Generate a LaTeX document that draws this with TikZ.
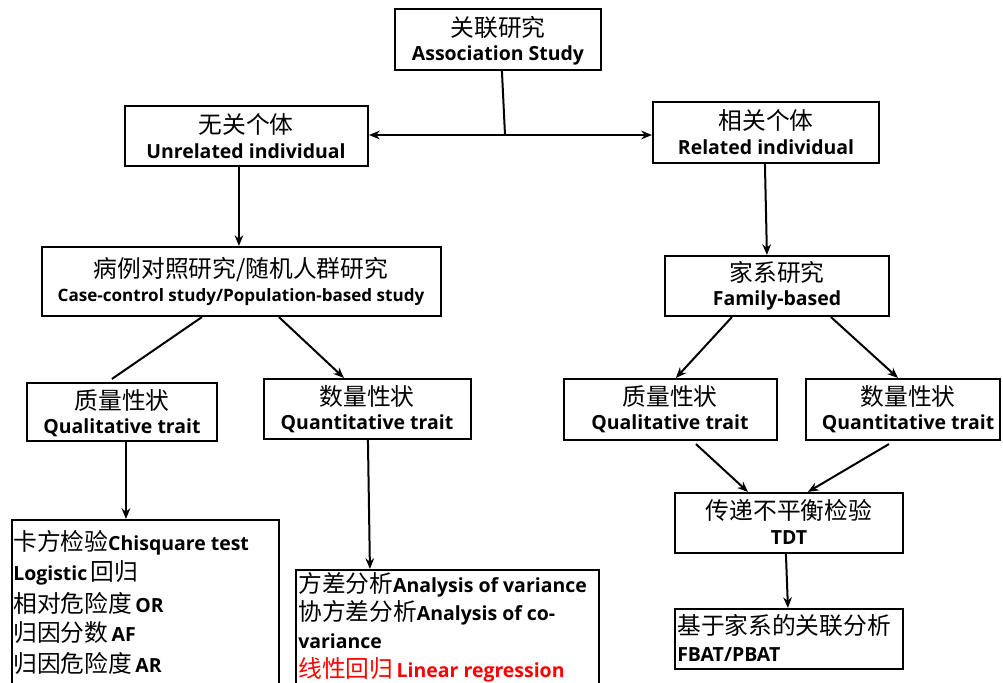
\documentclass[tikz,border=0pt]{standalone}
\usepackage{fontspec}
\setmainfont{Open Sans}
\newfontfamily\zhfont{Noto Sans CJK SC}
\usetikzlibrary{arrows.meta,calc,fit}
\newcommand\zhtxt[1]{{\zhfont\fontsize{17.8}{20}\selectfont #1}}
\newcommand\entxt[1]{{\bfseries\fontsize{14.6}{17}\selectfont #1}}
\newcommand\ensmall[1]{{\bfseries\fontsize{12.8}{15}\selectfont #1}}
\tikzset{
  box/.style={draw=black, line width=1.6pt, inner sep=0pt, rectangle},
  lbl/.style={inner sep=0pt, anchor=center},
  lline/.style={inner sep=0pt, anchor=west},
  conn/.style={line width=1.5pt, draw=black},
  arr/.style={conn, -{Stealth[length=8pt,width=6.5pt]}},
  darr/.style={conn, {Stealth[length=8pt,width=6.5pt]}-{Stealth[length=8pt,width=6.5pt]}}
}
\begin{document}
\begin{tikzpicture}[x=0.75pt,y=-0.75pt]
\path[use as bounding box] (0,0) rectangle (1003,682);
\clip (0,0) rectangle (1003,682);
\fill[white] (0,0) rectangle (1003,682);

% boxes
\node[box, fit={(395,9) (601,70)}] (as) {};
\node[box, fit={(125,106) (368,166)}] (ur) {};
\node[box, fit={(653,102) (879,163)}] (rl) {};
\node[box, fit={(42,247) (441,316)}] (cc) {};
\node[box, fit={(665,256) (889,316)}] (fam) {};
\node[box, fit={(27,383) (217,441)}] (ql) {};
\node[box, fit={(264,379) (471,439)}] (qn) {};
\node[box, fit={(564,379) (777,440)}] (rql) {};
\node[box, fit={(806,379) (1000,440)}] (rqn) {};
\node[box, fit={(675,493) (903,553)}] (tdt) {};
\node[box, fit={(675,609) (903,669)}] (fb) {};
\node[box, fit={(12,520) (279,700)}] (lb) {};
\node[box, fit={(296,570) (599,700)}] (mb) {};

% texts
\node[lbl] (as1) at (498,27) {\zhtxt{关联研究}};
\node[lbl] (as2) at (498,55) {\entxt{Association Study}};
\node[lbl] (ur1) at (246,124) {\zhtxt{无关个体}};
\node[lbl] (ur2) at (246,151) {\entxt{Unrelated individual}};
\node[lbl] (rl1) at (766,120) {\zhtxt{相关个体}};
\node[lbl] (rl2) at (766,147) {\entxt{Related individual}};
\node[lbl] (cc1) at (241,270) {\zhtxt{病例对照研究/随机人群研究}};
\node[lbl] (cc2) at (241,297) {\ensmall{Case-control study/Population-based study}};
\node[lbl] (fam1) at (777,272) {\zhtxt{家系研究}};
\node[lbl] (fam2) at (777,300) {\entxt{Family-based}};
\node[lbl] (ql1) at (122,400) {\zhtxt{质量性状}};
\node[lbl] (ql2) at (122,428) {\entxt{Qualitative trait}};
\node[lbl] (qn1) at (367,396) {\zhtxt{数量性状}};
\node[lbl] (qn2) at (367,424) {\entxt{Quantitative trait}};
\node[lbl] (rql1) at (670,396) {\zhtxt{质量性状}};
\node[lbl] (rql2) at (670,424) {\entxt{Qualitative trait}};
\node[lbl] (rqn1) at (908,396) {\zhtxt{数量性状}};
\node[lbl] (rqn2) at (908,424) {\entxt{Quantitative trait}};
\node[lbl] (tdt1) at (789,510) {\zhtxt{传递不平衡检验}};
\node[lbl] (tdt2) at (789,538) {\entxt{TDT}};
\node[lline] (fb1) at (677,625) {\zhtxt{基于家系的关联分析}};
\node[lline] (fb2) at (677,655) {\entxt{FBAT/PBAT}};

\node[lline] (lb1) at (13,543) {\zhtxt{卡方检验}\entxt{Chisquare test}};
\node[lline] (lb2) at (13,573) {\entxt{Logistic} \zhtxt{回归}};
\node[lline] (lb3) at (13,603) {\zhtxt{相对危险度} \entxt{OR}};
\node[lline] (lb4) at (13,633) {\zhtxt{归因分数} \entxt{AF}};
\node[lline] (lb5) at (13,663) {\zhtxt{归因危险度} \entxt{AR}};

\node[lline] (mb1) at (298,585) {\zhtxt{方差分析}\entxt{Analysis of variance}};
\node[lline] (mb2) at (298,613) {\zhtxt{协方差分析}\entxt{Analysis of co-}};
\node[lline] (mb3) at (298,641) {\entxt{variance}};
\node[lline, text=red] (mb4) at (298,670) {\zhtxt{线性回归} \entxt{Linear regression}};

% connectors
\coordinate (j) at (505,135);
\draw[conn] ($(as.south west)+(108,0)$) -- (j);
\draw[darr] (ur.east |- j) -- (rl.west |- j);
\draw[arr] ($(ur.south west)+(115,0)$) -- ($(cc.north west)+(198,0)$);
\draw[arr] ($(rl.south west)+(113,0)$) -- ($(fam.north west)+(103,0)$);
\draw[conn] ($(cc.south west)+(161,0)$) -- ($(ql.north west)+(86,-3)$);
\draw[arr] ($(cc.south west)+(238,0)$) -- ($(qn.north west)+(81,0)$);
\draw[arr] ($(fam.south west)+(68,0)$) -- ($(rql.north west)+(113,0)$);
\draw[arr] ($(fam.south west)+(167,0)$) -- ($(rqn.north west)+(93,0)$);
\draw[arr] ($(rql.south west)+(133,3)$) -- ($(tdt.north west)+(74,0)$);
\draw[arr] ($(rqn.south west)+(84,3)$) -- ($(tdt.north west)+(134,0)$);
\draw[arr] ($(tdt.south west)+(112,0)$) -- ($(fb.north west)+(114,0)$);
\draw[arr] ($(ql.south west)+(100,0)$) -- ($(lb.north west)+(115,0)$);
\draw[arr] ($(qn.south west)+(105,0)$) -- ($(mb.north west)+(75,0)$);
\end{tikzpicture}
\end{document}
